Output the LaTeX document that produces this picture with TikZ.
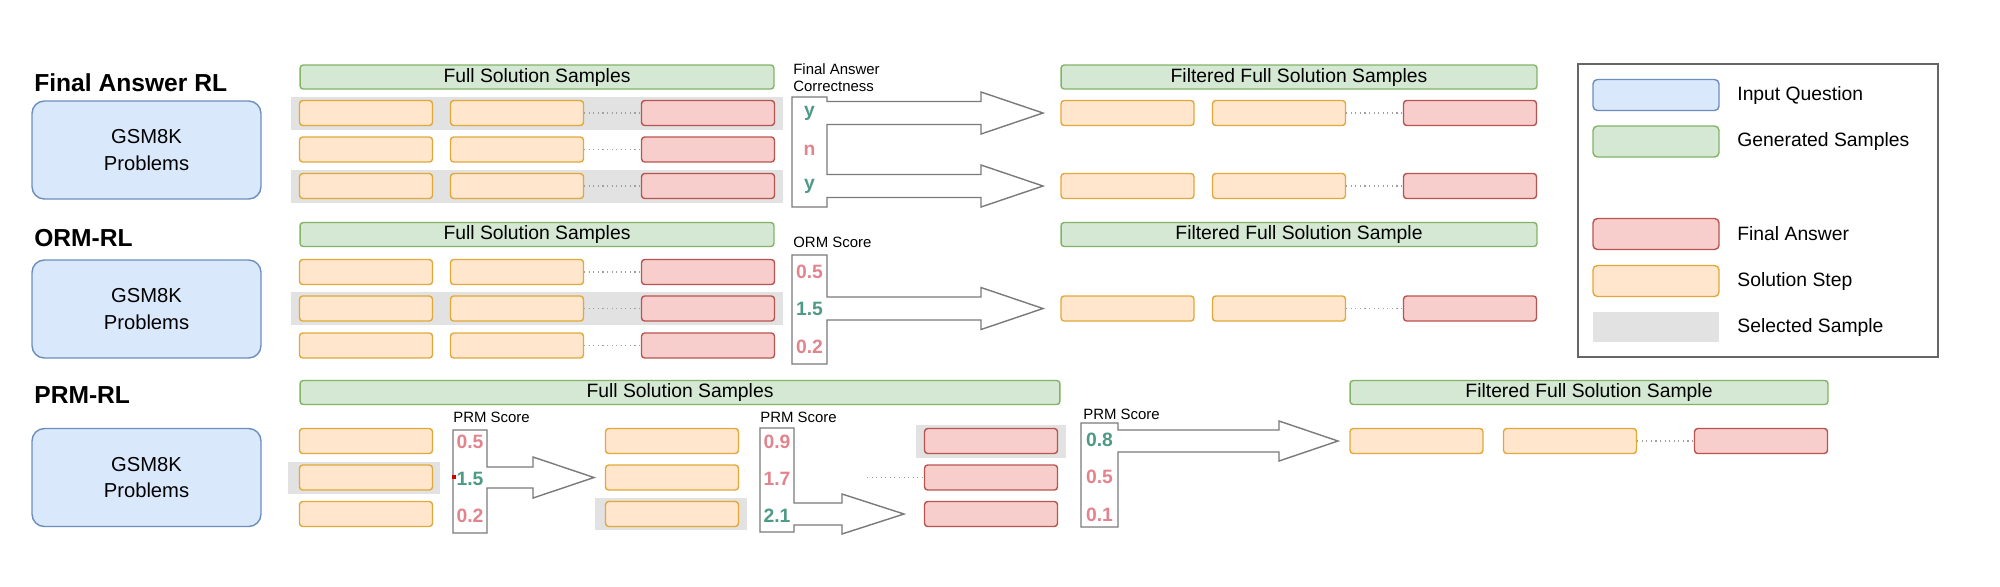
\documentclass[tikz,border=0pt]{standalone}
\usepackage{fontspec}
\setmainfont{Liberation Sans}
\setsansfont{Liberation Sans}
\usetikzlibrary{positioning}
\definecolor{stepfill}{HTML}{FFE6CC}\definecolor{stepline}{HTML}{E0A93A}
\definecolor{ansfill}{HTML}{F8CECC}\definecolor{ansline}{HTML}{B85450}
\definecolor{genfill}{HTML}{D5E8D4}\definecolor{genline}{HTML}{82B366}
\definecolor{qfill}{HTML}{DAE8FC}\definecolor{qline}{HTML}{6C8EBF}
\definecolor{selfill}{HTML}{E2E2E2}
\definecolor{goodval}{HTML}{4E9A86}\definecolor{badval}{HTML}{E2848E}
\definecolor{arrline}{HTML}{7A7A7A}
\begin{document}
\begin{tikzpicture}[x=.02cm,y=-.02cm,font=\sffamily,
  stepbox/.style={draw=stepline,fill=stepfill,line width=.8pt,rounded corners=1.8pt,minimum width=2.66cm,minimum height=.5cm,inner sep=0},
  ansbox/.style={stepbox,draw=ansline,fill=ansfill},
  genbox/.style={draw=genline,fill=genfill,line width=.8pt,rounded corners=1.8pt,minimum height=.48cm,inner sep=0,font=\sffamily\fontsize{11}{13}\selectfont},
  qbox/.style={draw=qline,fill=qfill,line width=.8pt,rounded corners=7pt,minimum width=4.58cm,minimum height=1.96cm,align=center,font=\sffamily\fontsize{11.5}{15}\selectfont},
  selbox/.style={fill=selfill,minimum height=.66cm,inner sep=0},
  title/.style={anchor=west,inner sep=0,font=\sffamily\bfseries\fontsize{14}{16}\selectfont},
  scorelbl/.style={anchor=west,inner sep=0,align=left,font=\sffamily\fontsize{8.5}{9.8}\selectfont},
  goodv/.style={text=goodval,font=\sffamily\bfseries\fontsize{11}{13}\selectfont},
  badv/.style={text=badval,font=\sffamily\bfseries\fontsize{11}{13}\selectfont},
  dotline/.style={dotted,gray!75,line width=.6pt},
  scorearrow/.style={draw=arrline,fill=white,line width=.8pt,line join=miter},
  legtext/.style={anchor=west,inner sep=0,font=\sffamily\fontsize{11}{13}\selectfont}]
\useasboundingbox (0,0) rectangle (2000,586);
% Final Answer RL
\node[title] (t1) at (34,83){Final Answer RL};
\node[qbox] (q1) at (146.5,150){GSM8K\\Problems};
\node[selbox,minimum width=9.84cm] (s1a) at (537,113){};\node[selbox,minimum width=9.84cm] (s1c) at (537,186){};
\node[genbox,minimum width=9.48cm] (h1) at (537,77){Full Solution Samples};
\foreach \y/\n in {113/a,149.5/b,186/c}{\node[stepbox] (p1\n1) at (366,\y){};\node[stepbox] (p1\n2) at (517,\y){};\node[ansbox] (p1\n3) at (708,\y){};\draw[dotline] (p1\n2)--(p1\n3);}
\node[scorelbl] (l1) at (793,78){Final Answer\\Correctness};
\draw[scorearrow] (827,97)--(792,97)--(792,207)--(827,207)--(827,197.5)--(981,197.5)--(981,207)--(1043,186)--(981,165)--(981,174.5)--(827,174.5)--(827,124.5)--(981,124.5)--(981,134)--(1043,113)--(981,92)--(981,101.5)--(827,101.5)--cycle;
\node[goodv] (v1a) at (809.5,113){y};\node[badv] (v1b) at (809.5,150){n};\node[goodv] (v1c) at (809.5,186){y};
\node[genbox,minimum width=9.52cm] (h1f) at (1299,77){Filtered Full Solution Samples};
\foreach \y/\n in {113/a,186/c}{\node[stepbox] (f1\n1) at (1127.5,\y){};\node[stepbox] (f1\n2) at (1279,\y){};\node[ansbox] (f1\n3) at (1470,\y){};\draw[dotline] (f1\n2)--(f1\n3);}
% ORM-RL
\node[title] (t2) at (34,238){ORM-RL};
\node[qbox] (q2) at (146.5,309){GSM8K\\Problems};
\node[selbox,minimum width=9.84cm] (s2b) at (537,308.5){};
\node[genbox,minimum width=9.48cm] (h2) at (537,234.5){Full Solution Samples};
\foreach \y/\n in {272/a,308.5/b,345.5/c}{\node[stepbox] (p2\n1) at (366,\y){};\node[stepbox] (p2\n2) at (517,\y){};\node[ansbox] (p2\n3) at (708,\y){};\draw[dotline] (p2\n2)--(p2\n3);}
\node[scorelbl] (l2) at (793,242){ORM Score};
\draw[scorearrow] (827,255)--(792,255)--(792,364)--(827,364)--(827,320)--(981,320)--(981,329.5)--(1043,308.5)--(981,287.5)--(981,297)--(827,297)--cycle;
\node[badv] (v2a) at (809.5,272){0.5};\node[goodv] (v2b) at (809.5,308.5){1.5};\node[badv] (v2c) at (809.5,347){0.2};
\node[genbox,minimum width=9.52cm] (h2f) at (1299,234.5){Filtered Full Solution Sample};
\node[stepbox] (f2b1) at (1127.5,308.5){};\node[stepbox] (f2b2) at (1279,308.5){};\node[ansbox] (f2b3) at (1470,308.5){};\draw[dotline] (f2b2)--(f2b3);
% PRM-RL
\node[title] (t3) at (34,395){PRM-RL};
\node[qbox] (q3) at (146.5,477.5){GSM8K\\Problems};
\node[genbox,minimum width=15.2cm] (h3) at (680,392.5){Full Solution Samples};
\node[selbox,minimum width=3.04cm,minimum height=.64cm] (s3a) at (364,478){};
\node[selbox,minimum width=3.04cm,minimum height=.64cm] (s3b) at (671,514){};
\node[selbox,minimum width=3.0cm,minimum height=.66cm] (s3c) at (991,441){};
\foreach \y/\n in {441/a,477.5/b,514/c}{\node[stepbox] (p3\n1) at (366,\y){};\node[stepbox] (p3\n2) at (672,\y){};\node[ansbox] (p3\n3) at (991,\y){};}
\coordinate (d3) at (867,477.5);\draw[dotline] (d3)--(p3b3);
\node[scorelbl] (l3a) at (453,417){PRM Score};\node[scorelbl] (l3b) at (760,417){PRM Score};\node[scorelbl] (l3c) at (1083,414){PRM Score};
\draw[scorearrow] (487,430)--(453,430)--(453,533)--(487,533)--(487,488)--(533,488)--(533,498)--(594,477.5)--(533,457)--(533,467)--(487,467)--cycle;
\draw[scorearrow] (794,428)--(760,428)--(760,532)--(794,532)--(794,525)--(842,525)--(842,534)--(904,514)--(842,494)--(842,503)--(794,503)--cycle;
\draw[scorearrow] (1118,430)--(1118,423)--(1081,423)--(1081,527)--(1118,527)--(1118,452)--(1279,452)--(1279,461)--(1338,441)--(1279,421)--(1279,430)--cycle;
\node[badv] (v3a) at (470,442){0.5};\node[goodv] (v3b) at (470,479){1.5};\node[badv] (v3c) at (470,516){0.2};
\fill[red!80!black] (452,475) rectangle (456,479);
\node[badv] (v4a) at (777,442){0.9};\node[badv] (v4b) at (777,479){1.7};\node[goodv] (v4c) at (777,516){2.1};
\node[goodv] (v5a) at (1099.5,440){0.8};\node[badv] (v5b) at (1099.5,477){0.5};\node[badv] (v5c) at (1099.5,515){0.1};
\node[genbox,minimum width=9.56cm] (h3f) at (1589,392.5){Filtered Full Solution Sample};
\node[stepbox] (f3a1) at (1416.5,441){};\node[stepbox] (f3a2) at (1570,441){};\node[ansbox] (f3a3) at (1761,441){};\draw[dotline] (f3a2)--(f3a3);
% legend
\node[draw=gray!80!black,line width=.8pt,minimum width=7.2cm,minimum height=5.86cm] (leg) at (1758,210.5){};
\node[qbox,minimum width=2.52cm,minimum height=.62cm,rounded corners=2.5pt] (k1) at (1656,95){};\node[legtext] at (1737,95){Input Question};
\node[genbox,minimum width=2.52cm,minimum height=.62cm,rounded corners=2.5pt] (k2) at (1656,141.5){};\node[legtext] at (1737,141.5){Generated Samples};
\node[ansbox,minimum width=2.52cm,minimum height=.62cm,rounded corners=2.5pt] (k3) at (1656,234){};\node[legtext] at (1737,234){Final Answer};
\node[stepbox,minimum width=2.52cm,minimum height=.62cm,rounded corners=2.5pt] (k4) at (1656,281){};\node[legtext] at (1737,281){Solution Step};
\node[selbox,minimum width=2.52cm,minimum height=.6cm] (k5) at (1656,327){};\node[legtext] at (1737,327){Selected Sample};
\end{tikzpicture}
\end{document}
